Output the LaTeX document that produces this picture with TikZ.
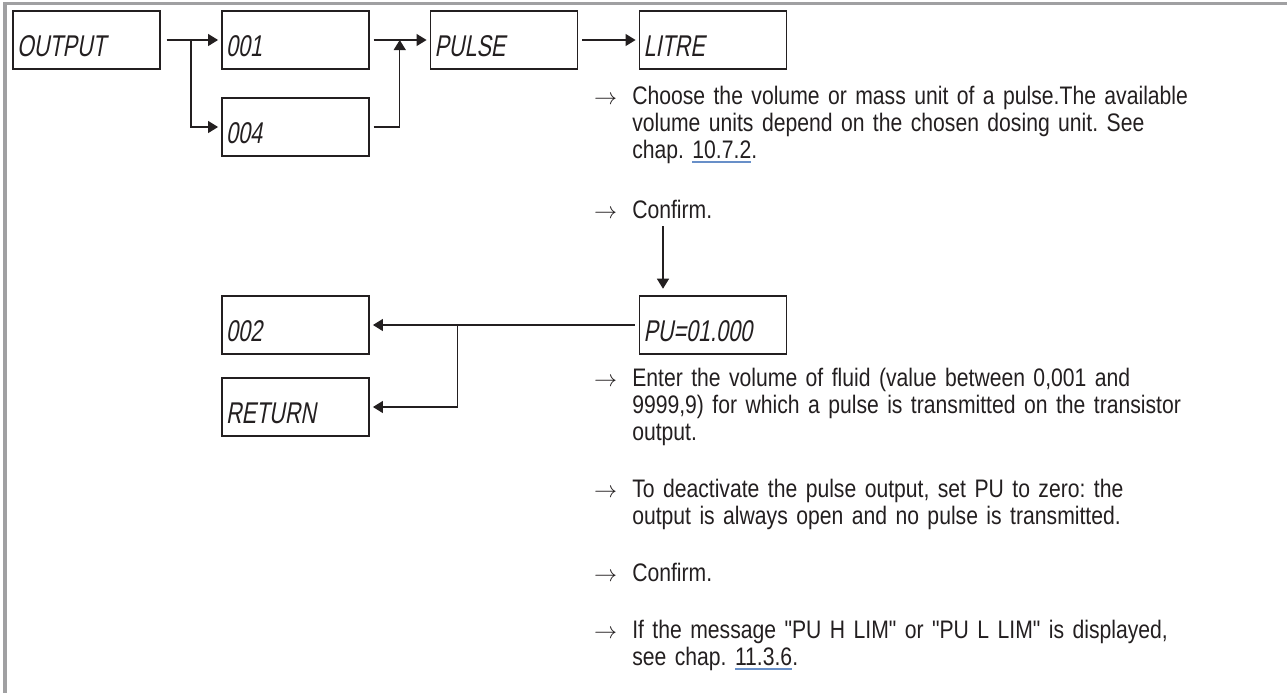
\documentclass[tikz,border=0pt]{standalone}
\usepackage{fontspec}
\setmainfont{Liberation Sans}[FakeStretch=0.835, Ligatures=TeXOff]
\newfontfamily\lcdfont{Liberation Sans}[FakeStretch=0.72, FakeSlant=0.18]
\usetikzlibrary{arrows.meta, calc, positioning}

\definecolor{framegray}{RGB}{160,160,162}
\definecolor{linkblue}{RGB}{104,143,200}
\definecolor{inkgray}{RGB}{35,31,32}

% underlined chapter reference
\newcommand{\xref}[1]{\setbox0\hbox{#1}\rlap{\color{linkblue}\rule[-3.4pt]{\wd0}{1.4pt}}\box0}
\frenchspacing

\begin{document}
\begin{tikzpicture}[
    x=0.75pt, y=-0.75pt,
    display/.style={draw=inkgray, line width=0.9pt, minimum height=43.5pt, text width=104.25pt,
        inner xsep=3pt, align=left, text height=24pt, text depth=0pt,
        font=\lcdfont\fontsize{22.5}{24}\selectfont, text=inkgray},
    wire/.style={draw=inkgray, line width=0.9pt},
    link/.style={wire, -{Triangle[length=7.5pt, width=9pt]}, shorten >=2.5pt},
    gap/.style={shorten <=3pt},
    note/.style={anchor=base west, inner sep=0pt, text width=450pt, align=left,
        font=\fontsize{19}{20.25}\selectfont, text=inkgray},
    bullet/.style={anchor=base east, inner sep=0pt, font=\fontsize{18}{20.25}\selectfont, text=inkgray},
    frame/.style={draw=framegray, line width=2.4pt},
]
\useasboundingbox (0,0) rectangle (1287,693);

% =============================================================================
% Page frame
% =============================================================================
\draw[frame] (5,693) -- (5,3.3) -- (1287,3.3);

% =============================================================================
% Menu: OUTPUT -> 001/004 -> PULSE -> LITRE
% =============================================================================
\node[display] (out)   at (86.5, 40)  {OUTPUT};
\node[display] (d01)   at (295.5, 40) {001};
\node[display] (d04)   at (295.5, 127) {004};
\node[display] (pulse) at (504, 40)   {PULSE};
\node[display] (litre) at (713, 40)   {LITRE};

% Branch after OUTPUT
\coordinate (s1) at ($(out.east)!0.5!(d01.west)$);
\draw[link, shorten <=4.5pt] (out.east) -- (d01.west);
\draw[link] (s1) |- (d04.west);

% Join before PULSE
\coordinate (j1) at ($(d01.east)!0.5!(pulse.west)$);
\draw[link, gap] (d01.east) -- (pulse.west);
\draw[wire, gap, -{Triangle[length=7.5pt, width=9pt]}] (d04.east) -| (j1);

\draw[link, gap] (pulse.east) -- (litre.west);

% Notes on LITRE
\node[note] (t1) at (632, 104) {Choose the volume or mass unit of a pulse.The available\\
    volume units depend on the chosen dosing unit. See\\
    chap. \xref{10.7.2}.};
\node[bullet] (a1) at ([xshift=-11pt]t1.base west) {$\rightarrow$};

\node[note] (t2) at (632, 218) {Confirm.};
\node[bullet] (a2) at ([xshift=-11pt]t2.base west) {$\rightarrow$};

% =============================================================================
% PU value -> 002 / RETURN
% =============================================================================
\node[display] (pu)  at (713, 325)   {PU=01.000};
\node[display] (d02) at (295.5, 325) {002};
\node[display] (ret) at (295.5, 407) {RETURN};

\coordinate (dn) at (663, 226);
\draw[link, shorten >=5pt] (dn) -- (dn |- pu.north);

\coordinate (s2) at ($(d02.east)+(88,0)$);
\draw[link, gap] (pu.west) -- (d02.east);
\draw[link] (s2) |- (ret.east);

% Notes on PU
\node[note] (t3) at (632, 386) {Enter the volume of fluid (value between 0,001 and\\
    9999,9) for which a pulse is transmitted on the transistor\\
    output.};
\node[bullet] (a3) at ([xshift=-11pt]t3.base west) {$\rightarrow$};

\node[note] (t4) at (632, 497) {To deactivate the pulse output, set PU to zero: the\\
    output is always open and no pulse is transmitted.};
\node[bullet] (a4) at ([xshift=-11pt]t4.base west) {$\rightarrow$};

\node[note] (t5) at (632, 581) {Confirm.};
\node[bullet] (a5) at ([xshift=-11pt]t5.base west) {$\rightarrow$};

\node[note] (t6) at (632, 638) {If the message "PU H LIM" or "PU L LIM" is displayed,\\
    see chap. \xref{11.3.6}.};
\node[bullet] (a6) at ([xshift=-11pt]t6.base west) {$\rightarrow$};

\end{tikzpicture}
\end{document}
